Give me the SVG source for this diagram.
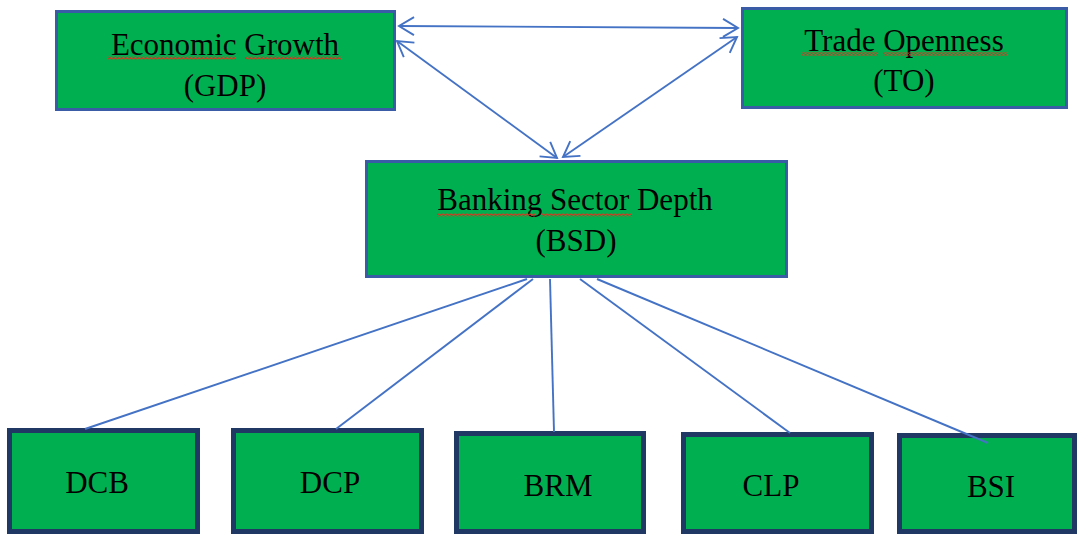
<svg xmlns="http://www.w3.org/2000/svg" width="1078" height="535" viewBox="0 0 1078 535">
  <style>
    .top { fill: #00b050; stroke: #3a5ba6; stroke-width: 3; }
    .bot { fill: #00b050; stroke: #203864; stroke-width: 5; }
    .lbl { font-family: "Liberation Serif", "Times New Roman", serif; font-size: 31px; fill: #000; text-anchor: middle; }
    .conn { stroke: #4472c4; stroke-width: 1.9; fill: none; }
    .arr { stroke: #4472c4; stroke-width: 1.9; fill: none; marker-start: url(#head); marker-end: url(#head); }
    .sq { fill: url(#squiggle); }
  </style>
  <defs>
    <marker id="head" markerUnits="userSpaceOnUse" markerWidth="30" markerHeight="30" viewBox="-20 -15 30 30" refX="0" refY="0" orient="auto-start-reverse">
      <path d="M-15,-9 L0,0 L-15,9" stroke="#4472c4" stroke-width="1.9" fill="none"/>
    </marker>
    <pattern id="squiggle" patternUnits="userSpaceOnUse" width="4" height="3">
      <path d="M0,2.5 L2,0.5 L4,2.5" stroke="#e0301e" stroke-width="1.1" fill="none"/>
    </pattern>
  </defs>

  <g id="node-gdp">
    <rect class="top" x="56.5" y="11.5" width="338" height="98"/>
    <text class="lbl" x="225" y="55">Economic Growth</text>
    <text class="lbl" x="225" y="96">(GDP)</text>
    <rect class="sq" x="108" y="56.5" width="128" height="3"/>
    <rect class="sq" x="245" y="56.5" width="96" height="3"/>
  </g>

  <g id="node-to">
    <rect class="top" x="742.5" y="8.5" width="324" height="99"/>
    <text class="lbl" x="904" y="51">Trade Openness</text>
    <text class="lbl" x="904" y="91">(TO)</text>
    <rect class="sq" x="802" y="52.5" width="76" height="3"/>
    <rect class="sq" x="883" y="52.5" width="124" height="3"/>
  </g>

  <g id="node-bsd">
    <rect class="top" x="366.5" y="161.5" width="420" height="115"/>
    <text class="lbl" x="575" y="210">Banking Sector Depth</text>
    <text class="lbl" x="576" y="251">(BSD)</text>
    <rect class="sq" x="437" y="213.5" width="98" height="3"/>
    <rect class="sq" x="542" y="213.5" width="90" height="3"/>
  </g>

  <g id="node-dcb">
    <rect class="bot" x="9.5" y="430.5" width="188" height="101"/>
    <text class="lbl" x="97" y="493">DCB</text>
  </g>
  <g id="node-dcp">
    <rect class="bot" x="233.5" y="430.5" width="188" height="101"/>
    <text class="lbl" x="330" y="493">DCP</text>
  </g>
  <g id="node-brm">
    <rect class="bot" x="456.5" y="433.5" width="187" height="98"/>
    <text class="lbl" x="558" y="496">BRM</text>
  </g>
  <g id="node-clp">
    <rect class="bot" x="683.5" y="434.5" width="188" height="97"/>
    <text class="lbl" x="771" y="496">CLP</text>
  </g>
  <g id="node-bsi">
    <rect class="bot" x="899.5" y="435.5" width="175" height="96"/>
    <text class="lbl" x="991" y="497">BSI</text>
  </g>

  <g id="connectors">
    <line class="arr" x1="399" y1="26" x2="738" y2="28"/>
    <line class="arr" x1="397" y1="41" x2="557" y2="158"/>
    <line class="arr" x1="737" y1="37" x2="563" y2="157"/>
    <line class="conn" x1="527" y1="279" x2="85" y2="429"/>
    <line class="conn" x1="533" y1="279" x2="336" y2="429"/>
    <line class="conn" x1="550" y1="279" x2="554" y2="432"/>
    <line class="conn" x1="580" y1="279" x2="790" y2="433"/>
    <line class="conn" x1="597" y1="279" x2="988" y2="443"/>
  </g>
</svg>
